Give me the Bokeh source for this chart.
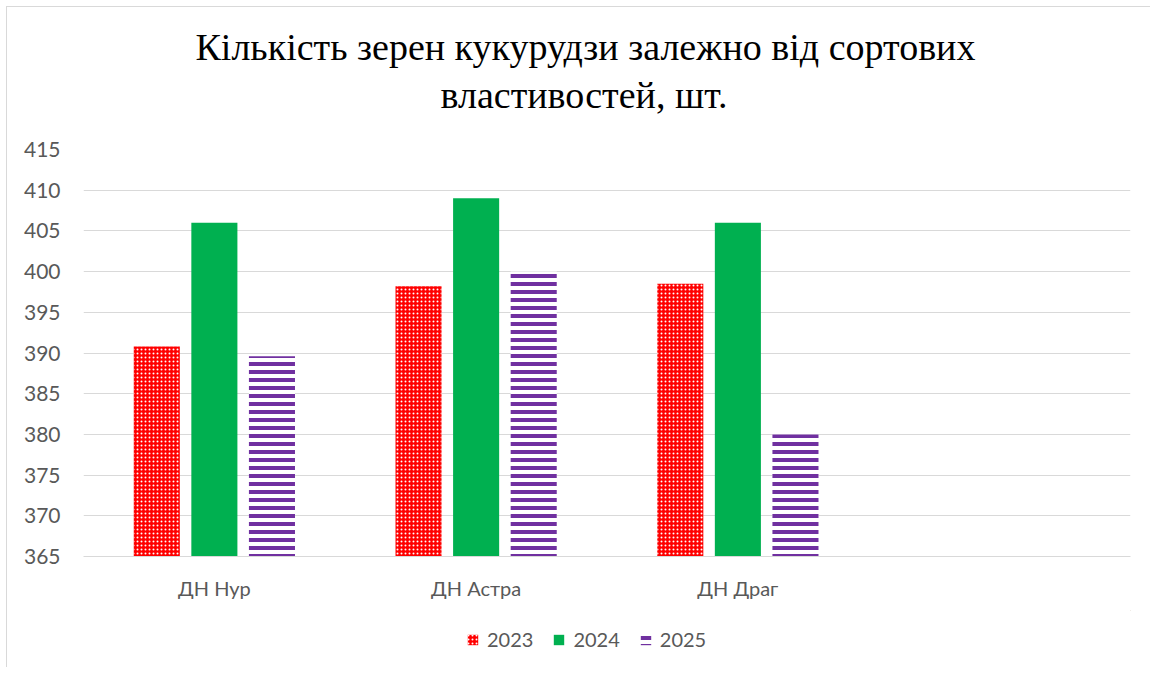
from bokeh.plotting import figure
from bokeh.models import FactorRange, Legend, LegendItem, Range1d, FixedTicker, Title, ColumnDataSource
from bokeh.layouts import column
from bokeh.transform import dodge
from bokeh.embed import file_html
from bokeh.resources import INLINE

categories = ["ДН Нур", "ДН Астра", "ДН Драг", " "]
years = ["2023", "2024", "2025"]
v2023 = [390.8, 398.2, 398.5, float("nan")]
v2024 = [406.0, 409.0, 406.0, float("nan")]
v2025 = [389.6, 400.0, 380.0, float("nan")]
y_ticks = [365, 370, 375, 380, 385, 390, 395, 400, 405, 410, 415]
title_lines = ["Кількість  зерен кукурудзи залежно від сортових", "властивостей, шт."]

src = ColumnDataSource(dict(cat=categories, v2023=v2023, v2024=v2024, v2025=v2025))

style1 = dict(fill_color="#FF0000", line_color=None, hatch_pattern="dot", hatch_color="white",
              hatch_scale=4, hatch_weight=1.5)
style2 = dict(fill_color="#00B050", line_color=None)
style3 = dict(fill_color="white", line_color=None, hatch_pattern="horizontal_line",
              hatch_color="#7030A0", hatch_scale=8, hatch_weight=4)

p = figure(x_range=FactorRange(factors=categories), y_range=Range1d(365, 415),
           width=1143, height=603, output_backend="svg", toolbar_location=None,
           min_border_left=76, min_border_right=20, min_border_bottom=54, min_border_top=142)
p.title.visible = False
# spacer between the frame and the title lines
t0 = Title(text=" ", text_font_size="1px", standoff=27)
t2 = Title(text=title_lines[1], align="left", offset=357, text_font="Liberation Serif",
           text_font_size="38px", text_font_style="normal", text_color="#000000", standoff=8)
t1 = Title(text=title_lines[0], align="left", offset=112, text_font="Liberation Serif",
           text_font_size="38px", text_font_style="normal", text_color="#000000", standoff=0)
p.add_layout(t0, "above")
p.add_layout(t2, "above")
p.add_layout(t1, "above")

w = 0.176
p.vbar(x=dodge("cat", -0.22, range=p.x_range), top="v2023", bottom=365, width=w, source=src, **style1)
p.vbar(x=dodge("cat", 0.0, range=p.x_range), top="v2024", bottom=365, width=w, source=src, **style2)
p.vbar(x=dodge("cat", 0.22, range=p.x_range), top="v2025", bottom=365, width=w, source=src, **style3)

p.yaxis.ticker = FixedTicker(ticks=y_ticks)
p.yaxis.axis_line_color = None
p.yaxis.major_tick_line_color = None
p.yaxis.minor_tick_line_color = None
p.yaxis.major_label_text_font = "Lato"
p.yaxis.major_label_text_font_size = "21px"
p.yaxis.major_label_text_color = "#595959"
p.yaxis.major_label_standoff = 17

p.xaxis.axis_line_color = "#d9d9d9"
p.xaxis.major_tick_line_color = None
p.xaxis.minor_tick_line_color = None
p.xaxis.major_label_text_font = "Lato"
p.xaxis.major_label_text_font_size = "20px"
p.xaxis.major_label_text_color = "#595959"
p.xaxis.major_label_standoff = 13

p.xgrid.grid_line_color = None
p.ygrid.grid_line_color = "#d9d9d9"
p.ygrid.grid_line_width = 1
p.outline_line_color = None
p.x_range.range_padding = 0
p.x_range.group_padding = 0

# legend in its own strip below the chart (frame aligned with the chart's frame)
lf = figure(width=1143, height=57, x_range=Range1d(0, 1), y_range=Range1d(0, 1),
            output_backend="svg", toolbar_location=None,
            min_border_left=0, min_border_right=0, min_border_top=0, min_border_bottom=0)
lf.axis.visible = False
lf.grid.visible = False
lf.outline_line_color = None
offscreen = ColumnDataSource(dict(x=[5.0], top=[5.0]))
g1 = lf.vbar(x="x", top="top", bottom=4.0, width=0.1, source=offscreen, **style1)
g2 = lf.vbar(x="x", top="top", bottom=4.0, width=0.1, source=offscreen, **style2)
g3 = lf.vbar(x="x", top="top", bottom=4.0, width=0.1, source=offscreen, **style3)
legend = Legend(items=[LegendItem(label=years[0], renderers=[g1]),
                       LegendItem(label=years[1], renderers=[g2]),
                       LegendItem(label=years[2], renderers=[g3])],
                orientation="horizontal", location=(383, 16),
                label_text_font="Lato", label_text_font_size="20px", label_text_color="#595959",
                glyph_width=13, glyph_height=13, spacing=19, label_standoff=8,
                border_line_color=None, background_fill_alpha=0, padding=0, margin=0)
lf.add_layout(legend, "center")

layout = column(p, lf, spacing=0, margin=(6, 0, 0, 6),
                styles={"border-top": "1px solid #d9d9d9", "border-left": "1px solid #d9d9d9"})

open("out.html", "w").write(file_html(layout, INLINE))
